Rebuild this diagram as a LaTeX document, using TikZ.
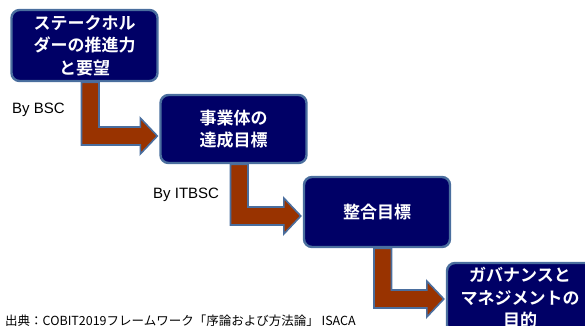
\documentclass[tikz,border=0pt]{standalone}
\usepackage{fontspec}
\setmainfont{Liberation Sans}
\newfontfamily\jp{Noto Sans CJK JP}[BoldFont={Noto Sans CJK JP Bold}]
\usetikzlibrary{calc,backgrounds}
\definecolor{boxfill}{HTML}{000066}
\definecolor{edgeblue}{HTML}{4A6E9E}
\definecolor{arrowfill}{HTML}{993300}
\tikzset{
  goalbox/.style={draw=edgeblue, line width=2.4pt, fill=boxfill, rounded corners=8pt,
    minimum width=146pt, minimum height=70pt, inner sep=0pt, align=center,
    text=white, font=\jp\bfseries\fontsize{17}{22.5}\selectfont},
  blockarrow/.style={draw=edgeblue, line width=1.6pt, fill=arrowfill, line join=miter},
  bylabel/.style={font=\fontsize{15}{18}\selectfont, inner sep=0pt, anchor=west},
  srclabel/.style={font=\jp\fontsize{12.5}{14}\selectfont, inner sep=0pt, anchor=west}
}
% #1 source node, #2 target node, #3 downward offset of the tip
\newcommand\blockarr[3]{%
  \draw[blockarrow] let \p1=(#1.south), \p2=($(#2.west)+(-2pt,-#3pt)$) in
    (\x1-3pt,\y1) -- (\x1+14.5pt,\y1) -- (\x1+14.5pt,\y2+9pt) -- (\x2-17pt,\y2+9pt)
    -- (\x2-17pt,\y2+18pt) -- (\x2,\y2) -- (\x2-17pt,\y2-18pt) -- (\x2-17pt,\y2-9pt)
    -- (\x1-3pt,\y2-9pt) -- cycle;}
\begin{document}
\begin{tikzpicture}[x=1pt,y=-1pt]
\useasboundingbox (0,0) rectangle (585,325);
\clip (0,0) rectangle (585,325);
\node[goalbox, minimum height=71pt] (b1) at (84.5,45.5) {ステークホル\\ダーの推進力\\と要望};
\node[goalbox, minimum height=68pt] (b2) at (233.5,129) {事業体の\\達成目標};
\node[goalbox] (b3) at (377,212) {整合目標};
\node[goalbox] (b4) at (520,298) {ガバナンスと\\マネジメントの\\目的};
\begin{scope}[on background layer]
\blockarr{b1}{b2}{7}
\blockarr{b2}{b3}{4}
\blockarr{b3}{b4}{1}
\end{scope}
\node[bylabel] (l1) at (12,110) {By BSC};
\node[bylabel] (l2) at (153,195) {By ITBSC};
\node[srclabel] (src) at (5,321) {出典：COBIT2019フレームワーク「序論および方法論」 ISACA};
\end{tikzpicture}
\end{document}
